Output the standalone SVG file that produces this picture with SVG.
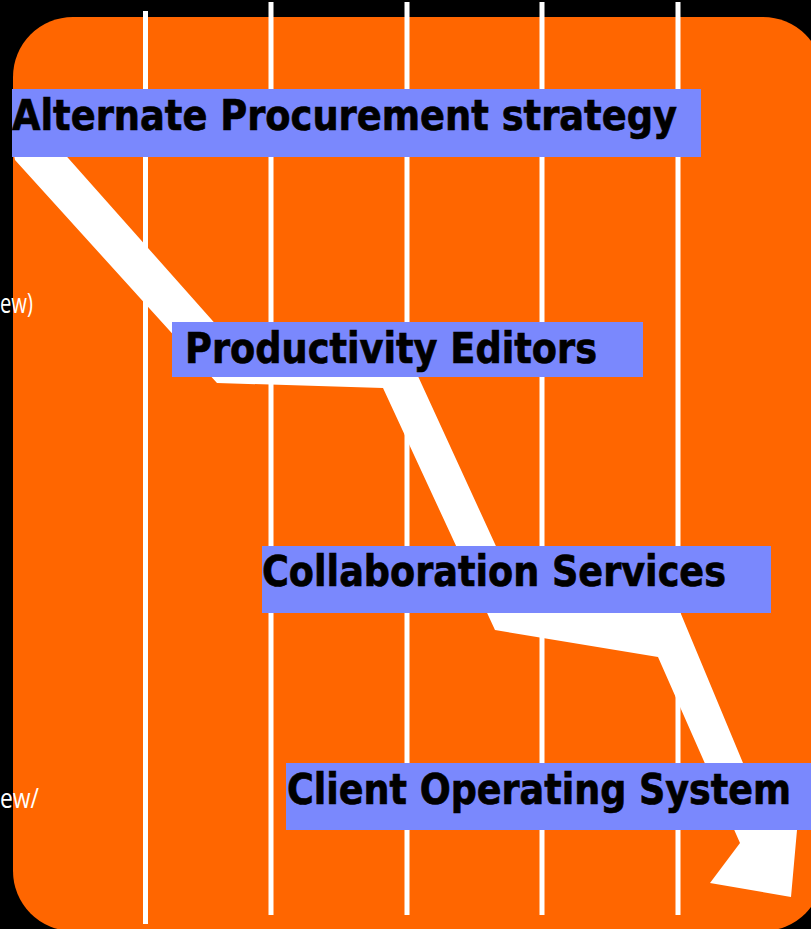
<svg xmlns="http://www.w3.org/2000/svg" width="811" height="929" viewBox="0 0 811 929">
<style>
.vl{stroke:#FFFFFF;stroke-width:5;fill:none}
.box{fill:#7A88FD}
.lbl{font-family:"DejaVu Sans","Verdana",sans-serif;font-weight:bold;font-size:42px;fill:#000000;stroke:#000000;stroke-width:0.7}
.side{font-family:"Open Sans","DejaVu Sans",sans-serif;font-size:27px;fill:#FFFFFF}
</style>
<rect x="0" y="0" width="811" height="929" fill="#000000"/>
<rect x="13" y="17" width="810" height="914" rx="60" ry="60" fill="#FF6600"/>
<text class="side" x="0" y="313" textLength="33" lengthAdjust="spacingAndGlyphs">ew)</text>
<text class="side" x="0" y="808" textLength="39" lengthAdjust="spacingAndGlyphs">ew/</text>
<g id="lines">
<line class="vl" x1="145.5" y1="11" x2="145.5" y2="924"/>
<line class="vl" x1="271" y1="2" x2="271" y2="915"/>
<line class="vl" x1="407" y1="2" x2="407" y2="915"/>
<line class="vl" x1="542" y1="2" x2="542" y2="915"/>
<line class="vl" x1="678" y1="2" x2="678" y2="915"/>
</g>
<g id="connectors">
<polygon fill="#FFFFFF" points="13,150 61,150 235,346 406,350 517,592 676,602 743,763 800,815 797,830 791,897 710,883 740,843 658,657 495,630 383,388 217,383 15,160"/>
</g>
<g id="node-alternate">
<rect class="box" x="12" y="89" width="689" height="68"/>
<text class="lbl" x="12" y="130" textLength="665" lengthAdjust="spacingAndGlyphs">Alternate Procurement strategy</text>
</g>
<g id="node-productivity">
<rect class="box" x="172" y="322" width="471" height="55"/>
<text class="lbl" x="185" y="363" textLength="412" lengthAdjust="spacingAndGlyphs">Productivity Editors</text>
</g>
<g id="node-collaboration">
<rect class="box" x="262" y="546" width="509" height="67"/>
<text class="lbl" x="262" y="586" textLength="464" lengthAdjust="spacingAndGlyphs">Collaboration Services</text>
</g>
<g id="node-client-os">
<rect class="box" x="286" y="763" width="525" height="67"/>
<text class="lbl" x="287" y="804" textLength="504" lengthAdjust="spacingAndGlyphs">Client Operating System</text>
</g>
</svg>
